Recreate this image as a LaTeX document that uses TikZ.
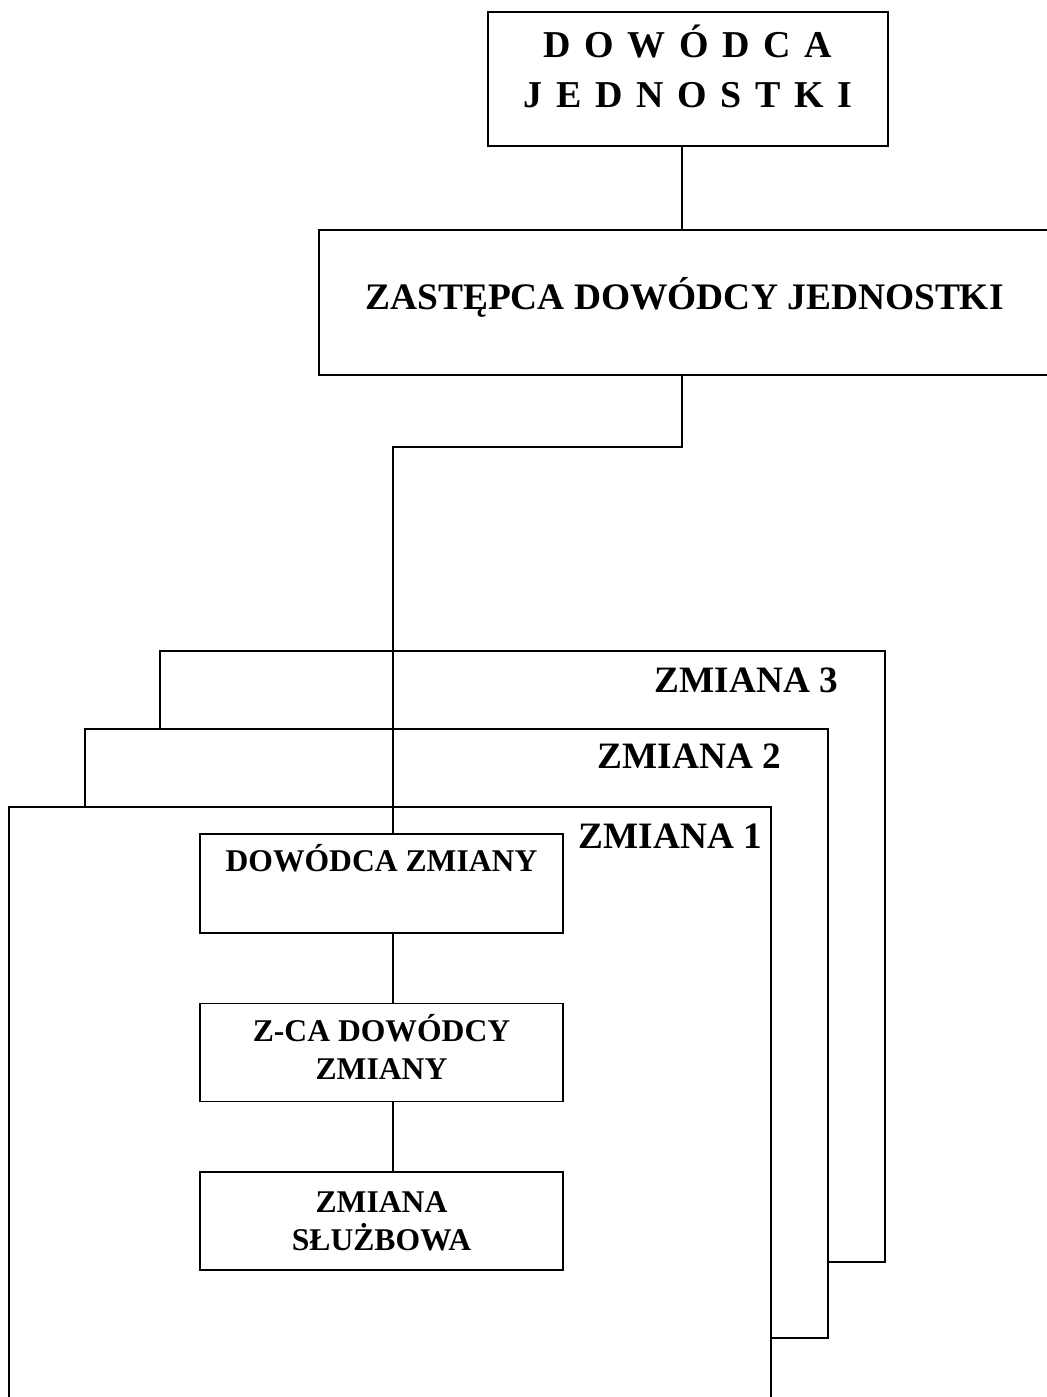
\documentclass[tikz,border=0pt]{standalone}
\usepackage{fontspec}
\setmainfont{Liberation Serif}
\usetikzlibrary{positioning}

% podnosi tekst bez zmiany jego wymiarow
\newcommand{\liftby}[2]{\raisebox{#1}[\height][\depth]{#2}}

\tikzset{
  box/.style = {draw, line width=1.1pt, fill=white, align=center},
  inbox/.style = {box, minimum width=7.26cm, minimum height=1.96cm,
    font=\bfseries\fontsize{18}{21.6}\selectfont},
  frame/.style = {draw, line width=1.1pt, fill=white},
  shiftlabel/.style = {inner sep=0pt, anchor=base east,
    font=\bfseries\fontsize{21.2}{26}\selectfont}
}

\begin{document}
\begin{tikzpicture}[x=0.02cm, y=-0.02cm, line width=1.1pt, node distance=3.38cm, on grid]

\useasboundingbox[fill=white] (0,0) rectangle (1047,1397);

% kierownictwo
\node (top) [box, minimum width=8cm, minimum height=2.68cm,
  font=\bfseries\fontsize{21.6}{29}\selectfont\addfontfeature{LetterSpace=36}]
  at (688,79) {\liftby{0.25cm}{DOWÓDCA}\\\liftby{0.26cm}{JEDNOSTKI}};
\node (zast) [box, minimum width=14.62cm, minimum height=2.9cm,
  font=\bfseries\fontsize{21.3}{26}\selectfont]
  at (684.5,302.5) {\liftby{0.1cm}{ZASTĘPCA DOWÓDCY JEDNOSTKI}};

% zmiany
\draw [frame] (160,651) rectangle (885,1262);
\draw [frame] (85,729) rectangle (828,1338);
\draw [frame] (9,807) rectangle (771,1420);

\node (zm3) [shiftlabel] at (839,692) {ZMIANA 3};
\node (zm2) [shiftlabel] at (782,768) {ZMIANA 2};
\node (zm1) [shiftlabel] at (763,848) {ZMIANA 1};

\node (dz) [inbox, inner ysep=0.32cm, text height=0.42cm, text depth=0.92cm]
  at (381.5,883.5) {DOWÓDCA ZMIANY};
\node (zdz) [inbox, below = of dz]
  {\liftby{0.12cm}{Z-CA DOWÓDCY}\\\liftby{0.12cm}{ZMIANY}};
\node (sluz) [inbox, below = of zdz] {ZMIANA\\SŁUŻBOWA};

% linie
\coordinate (spine) at (682,0);
\coordinate (elbow) at (393,447);
\draw (spine |- top.south) -- (spine |- zast.north);
\draw (spine |- zast.south) |- (elbow) -- (elbow |- dz.north);
\draw (dz.south -| elbow) -- (zdz.north -| elbow);
\draw (zdz.south -| elbow) -- (sluz.north -| elbow);

\end{tikzpicture}
\end{document}
